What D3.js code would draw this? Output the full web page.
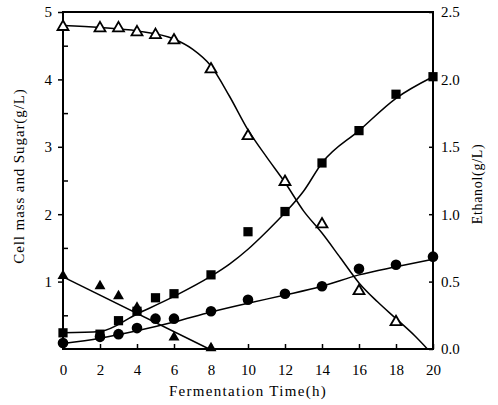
<!DOCTYPE html>
<html>
<head>
<meta charset="utf-8">
<script src="https://cdn.jsdelivr.net/npm/d3@7/dist/d3.min.js"></script>
<style>
  body { margin: 0; background: #fff; }
  text { font-family: "Liberation Serif", "DejaVu Serif", serif; fill: #000; }
</style>
</head>
<body>
<div id="chart"></div>
<script>
// measured points (hours, g/L)
var hours = [0, 2, 3, 4, 5, 6, 8, 10, 12, 14, 16, 18];
var sugar = [4.78, 4.76, 4.76, 4.70, 4.66, 4.58, 4.15, 3.16, 2.48, 1.85, 0.86, 0.40];

var glucHours = [0, 2, 3, 4, 6, 8];
var gluc = [1.07, 0.92, 0.77, 0.6, 0.16, 0.0];

var allHours = [0, 2, 3, 4, 5, 6, 8, 10, 12, 14, 16, 18, 20];
var ethanol = [0.12, 0.11, 0.21, 0.28, 0.38, 0.41, 0.55, 0.87, 1.02, 1.38, 1.62, 1.89, 2.02];
var cells = [0.09, 0.18, 0.22, 0.31, 0.45, 0.45, 0.56, 0.73, 0.82, 0.93, 1.19, 1.25, 1.37];

// fitted curves as drawn in the figure
var sugarFitT = [0, 2, 4, 6, 7, 8, 9, 10, 11, 12, 13, 14, 15, 16, 17, 18, 19, 19.7];
var sugarFit = [4.8, 4.77, 4.72, 4.6, 4.45, 4.2, 3.75, 3.25, 2.85, 2.47, 2.05, 1.72, 1.35, 0.98, 0.7, 0.45, 0.2, 0];
var glucFitT = [0, 7.9];
var glucFit = [1.07, 0];
var ethFitT = [0, 2, 4, 6, 8, 9, 10, 11, 12, 13, 14, 16, 18, 20];
var ethFit = [0.12, 0.13, 0.26, 0.39, 0.54, 0.63, 0.74, 0.87, 1.01, 1.17, 1.38, 1.62, 1.86, 2.02];
var cellFitT = [0, 2, 4, 6, 8, 10, 12, 14, 16, 18, 20];
var cellFit = [0.08, 0.16, 0.27, 0.4, 0.55, 0.68, 0.8, 0.93, 1.1, 1.22, 1.33];

var xTicks = [0, 2, 4, 6, 8, 10, 12, 14, 16, 18, 20];
var leftTicks = [1, 2, 3, 4, 5];
var rightTicks = [0, 0.5, 1, 1.5, 2, 2.5];

var width = 498, height = 405,
    margin = {top: 12, right: 65, bottom: 56, left: 63};

var svg = d3.select("#chart").append("svg")
    .attr("width", width)
    .attr("height", height);

var x = d3.scaleLinear().domain([0, 20]).range([margin.left, width - margin.right]),
    yL = d3.scaleLinear().domain([0, 5]).range([height - margin.bottom, margin.top]),
    yR = d3.scaleLinear().domain([0, 2.5]).range([height - margin.bottom, margin.top]);

// frame
svg.append("rect")
    .attr("x", x(0)).attr("y", yL(5))
    .attr("width", x(20) - x(0)).attr("height", yL(0) - yL(5))
    .attr("fill", "none").attr("stroke", "#000").attr("stroke-width", 2);

// bottom axis, ticks pointing in
var xAxis = svg.append("g")
    .attr("transform", "translate(0," + yL(0) + ")")
    .call(d3.axisBottom(x).tickValues(xTicks).tickSizeInner(-5).tickSizeOuter(0).tickPadding(15));
xAxis.select(".domain").remove();
xAxis.selectAll("line").attr("stroke-width", 1.5);
xAxis.selectAll("text").attr("font-size", 15);

// left axis: integers outward, halves inward
var yAxis = svg.append("g")
    .attr("transform", "translate(" + x(0) + ",0)")
    .call(d3.axisLeft(yL).tickValues(leftTicks).tickFormat(d3.format("d")).tickSize(5).tickPadding(6));
yAxis.select(".domain").remove();
yAxis.selectAll("line").attr("stroke-width", 1.5);
yAxis.selectAll("text").attr("font-size", 15);
svg.append("g")
    .attr("transform", "translate(" + x(0) + ",0)")
    .call(d3.axisRight(yL).tickValues([0.5, 1.5, 2.5, 3.5, 4.5]).tickSize(5).tickFormat(""))
    .call(function(g) { g.select(".domain").remove(); g.selectAll("line").attr("stroke-width", 1.5); });

// right axis (ethanol)
var rAxis = svg.append("g")
    .attr("transform", "translate(" + x(20) + ",0)")
    .call(d3.axisRight(yR).tickValues(rightTicks).tickFormat(d3.format(".1f")).tickSizeInner(-4).tickSizeOuter(0).tickPadding(8));
rAxis.select(".domain").remove();
rAxis.selectAll("line").attr("stroke-width", 1.5);
rAxis.selectAll("text").attr("font-size", 15);

// axis titles
svg.append("text")
    .attr("x", (x(0) + x(20)) / 2).attr("y", 396)
    .attr("text-anchor", "middle").attr("font-size", 15)
    .attr("letter-spacing", 1.3)
    .text("Fermentation Time(h)");

svg.append("text")
    .attr("transform", "translate(24,176) rotate(-90)")
    .attr("text-anchor", "middle").attr("font-size", 15)
    .attr("letter-spacing", 0.9)
    .text("Cell mass and Sugar(g/L)");

svg.append("text")
    .attr("transform", "translate(482,184) rotate(-90)")
    .attr("text-anchor", "middle").attr("font-size", 14)
    .attr("letter-spacing", 0.7)
    .text("Ethanol(g/L)");

// curves
var lineL = d3.line().x(function(d) { return x(d[0]); }).y(function(d) { return yL(d[1]); }).curve(d3.curveMonotoneX),
    lineR = d3.line().x(function(d) { return x(d[0]); }).y(function(d) { return yR(d[1]); }).curve(d3.curveMonotoneX);

function zip(a, b) { return a.map(function(v, i) { return [v, b[i]]; }); }

var curves = svg.append("g").attr("fill", "none").attr("stroke", "#000").attr("stroke-width", 1.5);
curves.append("path").attr("d", lineL(zip(sugarFitT, sugarFit)));
curves.append("path").attr("d", lineL(zip(glucFitT, glucFit)));
curves.append("path").attr("d", lineR(zip(ethFitT, ethFit)));
curves.append("path").attr("d", lineL(zip(cellFitT, cellFit)));

// markers
var tri = d3.symbol().type(d3.symbolTriangle).size(52),
    sq = d3.symbol().type(d3.symbolSquare).size(85);

svg.append("g").selectAll("path")
    .data(zip(hours, sugar)).enter().append("path")
    .attr("d", tri)
    .attr("transform", function(d) { return "translate(" + x(d[0]) + "," + yL(d[1]) + ")"; })
    .attr("fill", "#fff").attr("stroke", "#000").attr("stroke-width", 1.8);

svg.append("g").selectAll("path")
    .data(zip(glucHours, gluc)).enter().append("path")
    .attr("d", tri)
    .attr("transform", function(d) { return "translate(" + x(d[0]) + "," + (yL(d[1]) - 1) + ")"; })
    .attr("fill", "#000");

svg.append("g").selectAll("path")
    .data(zip(allHours, ethanol)).enter().append("path")
    .attr("d", sq)
    .attr("transform", function(d) { return "translate(" + x(d[0]) + "," + yR(d[1]) + ")"; })
    .attr("fill", "#000");

svg.append("g").selectAll("circle")
    .data(zip(allHours, cells)).enter().append("circle")
    .attr("cx", function(d) { return x(d[0]); })
    .attr("cy", function(d) { return yL(d[1]); })
    .attr("r", 5.3)
    .attr("fill", "#000");
</script>
</body>
</html>
